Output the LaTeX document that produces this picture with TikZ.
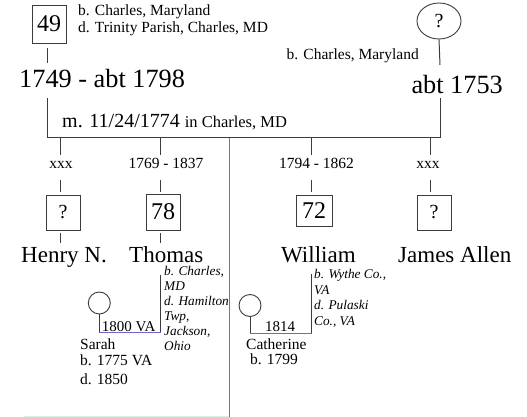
\documentclass[tikz,border=0pt]{standalone}
\usepackage{fontspec}
\setmainfont{Liberation Serif}
\usetikzlibrary{shapes.geometric}
\definecolor{lin}{RGB}{60,60,60}
\definecolor{grn}{RGB}{30,170,95}
\definecolor{prp}{RGB}{115,100,205}
\definecolor{faint}{RGB}{215,240,232}
\begin{document}
\begin{tikzpicture}[x=1pt,y=-1pt,
  conn/.style={draw=lin, line width=1pt},
  pbox/.style={draw=lin, line width=0.9pt, minimum width=34pt, minimum height=36pt, inner sep=0pt, font=\fontsize{24}{24}\selectfont},
  qbox/.style={pbox, font=\fontsize{20}{20}\selectfont},
  pcirc/.style={draw=lin, line width=0.9pt, circle, minimum size=22pt, inner sep=0pt},
  big/.style={inner sep=0pt, font=\fontsize{26.3}{28}\selectfont},
  pname/.style={inner sep=0pt, font=\fontsize{23}{26}\selectfont},
  marr/.style={inner sep=0pt, font=\fontsize{20}{22}\selectfont},
  small/.style={inner sep=0pt, font=\fontsize{15.5}{17}\selectfont},
  ital/.style={inner sep=0pt, align=left, font=\fontsize{13.3}{15}\selectfont\itshape}]
\useasboundingbox[fill=white] (0,0) rectangle (527,417);

% green and faint lines
\coordinate (g1) at (229.3,137); \coordinate (g2) at (229.3,417);
\draw[grn, line width=1.3pt] (g1) -- (g2);
\coordinate (f1) at (24,416); \coordinate (f2) at (229.3,416);
\draw[faint, line width=1pt] (f1) -- (f2);

% top left person
\node[pbox, minimum height=38pt] (b49) at (49,24) {49};
\node[small, anchor=base west] (tb1) at (78,16) {b. Charles, Maryland};
\node[small, anchor=base west] (td1) at (78,33) {d. Trinity Parish, Charles, MD};
\coordinate (l49a) at (47,48); \coordinate (l49b) at (47,63);
\draw[conn] (l49a) -- (l49b);
\node[big, anchor=base west] (dates1) at (19,88) {1749 - abt 1798};

% top right person
\node[draw=lin, line width=0.9pt, ellipse, minimum width=44pt, minimum height=36pt, inner sep=0pt, font=\fontsize{20}{20}\selectfont] (e1) at (439,21) {?};
\node[small, anchor=base east] (tb2) at (419,60) {b. Charles, Maryland};
\coordinate (le) at (440,65);
\draw[conn] (e1.south) -- (le);
\node[big, anchor=base east] (dates2) at (503,94) {abt 1753};

% marriage bar
\coordinate (h1) at (47,98); \coordinate (hL) at (47,137);
\coordinate (hR) at (440,137); \coordinate (h2) at (440,98);
\draw[conn] (h1) -- (hL) -- (hR) -- (h2);
\node[marr, anchor=base west] (marr) at (62,128) {m. 11/24/1774 {\fontsize{16.5}{17}\selectfont in Charles, MD}};

% children
\foreach \n/\x in {a/60,b/160,c/311,d/430}{
  \coordinate (d\n1) at (\x,137); \coordinate (d\n2) at (\x,155);
  \coordinate (d\n3) at (\x,180); \coordinate (d\n4) at (\x,192);
  \draw[conn] (d\n1) -- (d\n2);
  \draw[conn] (d\n3) -- (d\n4);
}
\node[small, anchor=base] (ya) at (61,168) {xxx};
\node[small, anchor=base] (yb) at (166,168) {1769 - 1837};
\node[small, anchor=base] (yc) at (316.5,168) {1794 - 1862};
\node[small, anchor=base] (yd) at (428,168) {xxx};

\node[qbox, minimum height=35pt] (ba) at (63,212.5) {?};
\node[pbox] (bb) at (163,212) {78};
\node[pbox, minimum width=36pt, minimum height=31pt] (bc) at (314,210.5) {72};
\node[qbox, minimum height=35pt] (bd) at (434,212.5) {?};

\coordinate (ua1) at (60,233); \coordinate (ua2) at (60,243);
\coordinate (ub1) at (160,233); \coordinate (ub2) at (160,243);
\draw[conn] (ua1) -- (ua2);
\draw[conn] (ub1) -- (ub2);

\node[pname, anchor=base west] (na) at (21,262) {Henry N.};
\node[pname, anchor=base west] (nb) at (129,262) {Thomas};
\node[pname, anchor=base west] (nc) at (281,262) {William};
\node[pname, anchor=base west] (nd) at (398,262) {James Allen};

% Thomas details and spouse
\node[ital, anchor=north west] (ib) at (164,266.5) {b. Charles,\\MD\\d. Hamilton\\Twp,\\Jackson,\\Ohio};
\coordinate (vb1) at (160.7,275); \coordinate (vb2) at (160.7,332);
\node[pcirc] (cs) at (99.3,303) {};
\coordinate (cs2) at (99.3,332);
\draw[prp, line width=1pt] (cs2) -- (vb2);
\draw[conn] (cs.south) -- (cs2);
\draw[conn] (vb1) -- (vb2);
\node[small, font=\fontsize{15}{16}\selectfont, anchor=base west] (ms) at (101.7,331) {1800 VA};
\node[small, anchor=base west] (sn) at (80,349) {Sarah};
\node[small, anchor=base west] (sb) at (80,365.7) {b. 1775 VA};
\node[small, anchor=base west] (sd) at (80,384) {d. 1850};

% William details and spouse
\node[ital, anchor=north west, font=\fontsize{13.3}{15.5}\selectfont\itshape] (ic) at (314,269.2) {b. Wythe Co.,\\VA\\d. Pulaski\\Co., VA};
\coordinate (vc1) at (311.7,274); \coordinate (vc2) at (311.7,333);
\node[pcirc] (cc) at (250,305.5) {};
\coordinate (cc2) at (250,333);
\draw[prp, line width=1pt] (cc2) -- (vc2);
\draw[conn] (cc.south) -- (cc2);
\draw[conn] (vc1) -- (vc2);
\node[small, font=\fontsize{15}{16}\selectfont, anchor=base] (mc) at (280,331) {1814};
\node[small, anchor=base west] (cn) at (246,349.3) {Catherine};
\node[small, anchor=base west] (cb) at (250,364.3) {b. 1799};
\end{tikzpicture}
\end{document}
